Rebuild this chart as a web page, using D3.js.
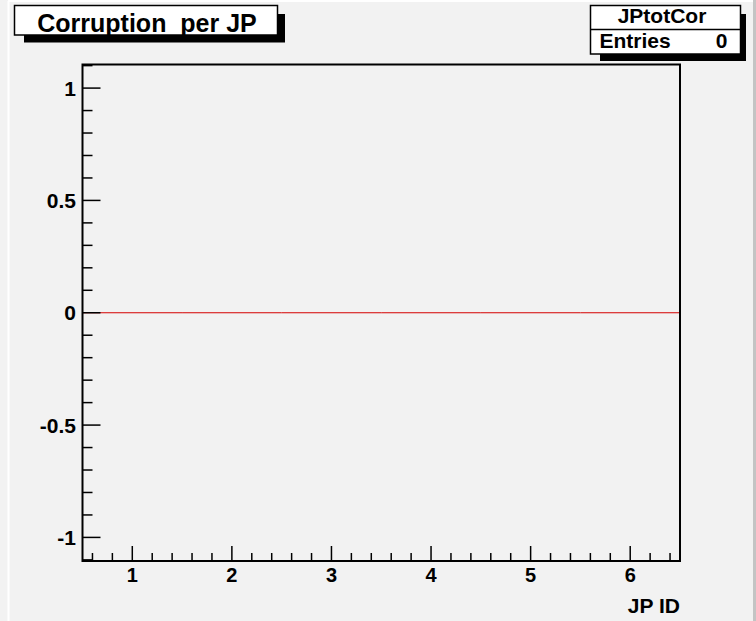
<!DOCTYPE html>
<html>
<head>
<meta charset="utf-8">
<script src="https://cdn.jsdelivr.net/npm/d3@7"></script>
<style>
  html, body { margin: 0; padding: 0; background: #f2f2f2; }
  svg { display: block; }
  text { font-family: "Liberation Sans", Arial, Helvetica, sans-serif; font-weight: bold; fill: #000; white-space: pre; }
</style>
</head>
<body>
<svg id="chart" width="756" height="621"></svg>
<script>
// ---- data ----
const title = "Corruption  per JP";
const histName = "JPtotCor";
const entries = 0;
const binCenters = [1, 2, 3, 4, 5, 6];
const binValues = [0, 0, 0, 0, 0, 0];
const xTickValues = [1, 2, 3, 4, 5, 6];
const xTickLabels = ["1", "2", "3", "4", "5", "6"];
const yTickValues = [-1, -0.5, 0, 0.5, 1];
const yTickLabels = ["-1", "-0.5", "0", "0.5", "1"];
const xLabel = "JP ID";

// ---- layout ----
const W = 756, H = 621;
const plot = { left: 82.5, right: 680, top: 64.5, bottom: 561 };
const svg = d3.select("#chart");

svg.append("rect").attr("width", W).attr("height", H).attr("fill", "#f2f2f2");
// canvas border highlights
svg.append("line").attr("x1", 8.5).attr("x2", 8.5).attr("y1", 1).attr("y2", H).attr("stroke", "#ffffff").attr("stroke-width", 2);
svg.append("line").attr("x1", 8).attr("x2", 753).attr("y1", 1).attr("y2", 1).attr("stroke", "#ffffff").attr("stroke-width", 2);
svg.append("rect").attr("x", 753).attr("y", 0).attr("width", 3).attr("height", H).attr("fill", "#c4c4c4");

const x = d3.scaleLinear().domain([0.5, 6.5]).range([plot.left, plot.right]);
const y = d3.scaleLinear().domain([-1.105, 1.105]).range([plot.bottom, plot.top]);

// histogram (zero line) as step path
const bw = 1;
const stepPts = [];
binCenters.forEach((c, i) => {
  stepPts.push([c - bw / 2, binValues[i]]);
  stepPts.push([c + bw / 2, binValues[i]]);
});
svg.append("path")
  .attr("d", d3.line().x(d => x(d[0])).y(d => y(d[1]))(stepPts))
  .attr("fill", "none").attr("stroke", "#d40000").attr("stroke-width", 1);

// frame
svg.append("rect")
  .attr("x", plot.left).attr("y", plot.top)
  .attr("width", plot.right - plot.left).attr("height", plot.bottom - plot.top)
  .attr("fill", "none").attr("stroke", "#000").attr("stroke-width", 2);

// y axis ticks (inward)
const yMinor = d3.range(-11, 12).map(v => v / 10).filter(v => !yTickValues.some(t => Math.abs(t - v) < 1e-9));
const gy = svg.append("g");
gy.selectAll("line.maj").data(yTickValues).join("line")
  .attr("x1", plot.left).attr("x2", plot.left + 18)
  .attr("y1", d => y(d)).attr("y2", d => y(d))
  .attr("stroke", "#000").attr("stroke-width", 1.5);
gy.selectAll("line.min").data(yMinor).join("line")
  .attr("x1", plot.left).attr("x2", plot.left + 10)
  .attr("y1", d => y(d)).attr("y2", d => y(d))
  .attr("stroke", "#000").attr("stroke-width", 1.5);
gy.selectAll("text").data(yTickValues).join("text")
  .attr("x", 76).attr("y", d => y(d) + 7.5)
  .attr("text-anchor", "end").attr("font-size", 21)
  .text((d, i) => yTickLabels[i]);

// x axis ticks (inward)
const xMinor = d3.range(3, 33).map(v => v / 5).filter(v => !xTickValues.some(t => Math.abs(t - v) < 1e-9) && v > 0.5 && v < 6.5);
const gx = svg.append("g");
gx.selectAll("line.maj").data(xTickValues).join("line")
  .attr("x1", d => x(d)).attr("x2", d => x(d))
  .attr("y1", plot.bottom).attr("y2", plot.bottom - 15)
  .attr("stroke", "#000").attr("stroke-width", 1.5);
gx.selectAll("line.min").data(xMinor).join("line")
  .attr("x1", d => x(d)).attr("x2", d => x(d))
  .attr("y1", plot.bottom).attr("y2", plot.bottom - 8)
  .attr("stroke", "#000").attr("stroke-width", 1.5);
gx.selectAll("text").data(xTickValues).join("text")
  .attr("x", d => x(d)).attr("y", 582)
  .attr("text-anchor", "middle").attr("font-size", 20)
  .text((d, i) => xTickLabels[i]);

svg.append("text").attr("x", plot.right).attr("y", 612.5)
  .attr("text-anchor", "end").attr("font-size", 21).text(xLabel);

// title box with shadow
svg.append("rect").attr("x", 24).attr("y", 14).attr("width", 261).attr("height", 28.5).attr("fill", "#000");
svg.append("rect").attr("x", 14.5).attr("y", 5.5).attr("width", 263).attr("height", 29.5)
  .attr("fill", "#fff").attr("stroke", "#000").attr("stroke-width", 1.5);
svg.append("text").attr("x", 147).attr("y", 31.5).attr("text-anchor", "middle")
  .attr("font-size", 25).text(title);

// stats box with shadow
svg.append("rect").attr("x", 600).attr("y", 14).attr("width", 146).attr("height", 47).attr("fill", "#000");
svg.append("rect").attr("x", 590.5).attr("y", 5.5).attr("width", 150).attr("height", 48.5)
  .attr("fill", "#fff").attr("stroke", "#000").attr("stroke-width", 1.5);
svg.append("line").attr("x1", 590.5).attr("x2", 740.5).attr("y1", 29.5).attr("y2", 29.5)
  .attr("stroke", "#000").attr("stroke-width", 1.5);
svg.append("text").attr("x", 662).attr("y", 22.5).attr("text-anchor", "middle")
  .attr("font-size", 21).text(histName);
svg.append("text").attr("x", 599.5).attr("y", 48).attr("font-size", 21).text("Entries");
svg.append("text").attr("x", 727.5).attr("y", 48).attr("text-anchor", "end")
  .attr("font-size", 21).text(String(entries));
</script>
</body>
</html>
